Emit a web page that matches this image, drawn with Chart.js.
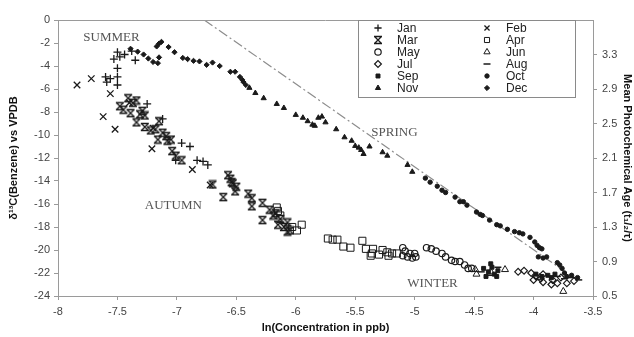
<!DOCTYPE html>
<html>
<head>
<meta charset="utf-8">
<script src="https://cdn.jsdelivr.net/npm/chart.js@4.4.1/dist/chart.umd.min.js"></script>
<style>
  html, body { margin: 0; padding: 0; background: #fff; }
  #wrap { width: 634px; height: 337px; }
</style>
</head>
<body>
<div id="wrap"><canvas id="chart" width="634" height="337"></canvas></div>
<script>
// ln(concentration) vs delta13C, one list of [x, y] pairs per month
const jan = [[-7.50, -2.8], [-7.48, -3.2], [-7.38, -2.7], [-7.35, -3.5], [-7.44, -3.0], [-7.50, -4.2],
  [-7.50, -4.95], [-7.50, -5.65], [-7.60, -4.95], [-7.59, -5.4], [-7.56, -5.1], [-7.53, -3.4],
  [-7.25, -7.3], [-7.12, -8.6], [-6.96, -10.7], [-6.89, -11.0], [-7.01, -12.2], [-6.83, -12.2],
  [-6.78, -12.3], [-6.74, -12.6]];
const feb = [[-7.84, -5.65], [-7.72, -5.1], [-7.56, -6.4], [-7.62, -8.4], [-7.52, -9.5], [-7.21, -11.2],
  [-6.87, -13.0], [-6.72, -14.35], [-7.40, -7.2], [-7.20, -9.4]];
const mar = [[-7.41, -6.8], [-7.37, -7.2], [-7.34, -7.0], [-7.48, -7.5], [-7.45, -7.8], [-7.39, -8.1],
  [-7.31, -8.2], [-7.29, -7.9], [-7.27, -8.3], [-7.34, -8.9], [-7.27, -9.3], [-7.22, -9.6],
  [-7.18, -9.5], [-7.12, -9.8], [-7.09, -10.1], [-7.08, -10.5], [-7.05, -10.4], [-7.15, -8.8],
  [-7.16, -10.4], [-7.04, -11.4], [-7.01, -11.8], [-6.96, -12.2], [-6.57, -13.5], [-6.55, -13.8],
  [-6.54, -14.1], [-6.50, -14.5], [-6.53, -14.2], [-6.70, -14.3], [-6.61, -15.4], [-6.51, -14.9],
  [-6.40, -15.1], [-6.37, -15.5], [-6.37, -16.2], [-6.28, -15.9], [-6.28, -17.4], [-6.22, -16.5],
  [-6.19, -17.0], [-6.17, -16.8], [-6.15, -17.8], [-6.13, -17.3], [-6.07, -17.6], [-6.05, -18.3],
  [-6.07, -18.4], [-6.10, -18.0]];
const apr = [[-6.16, -16.3], [-6.15, -16.6], [-6.13, -17.0], [-5.95, -17.8], [-5.99, -18.3], [-6.03, -18.0],
  [-5.73, -19.0], [-5.69, -19.1], [-5.65, -19.1], [-5.60, -19.7], [-5.54, -19.8], [-5.44, -19.2],
  [-5.41, -19.9], [-5.36, -20.3], [-5.35, -19.9], [-5.27, -20.0], [-5.23, -20.2], [-5.19, -20.3],
  [-5.15, -20.3], [-5.30, -20.4], [-5.37, -20.5], [-5.22, -20.5]];
const may = [[-5.10, -19.8], [-5.08, -20.1], [-5.06, -20.6], [-5.02, -20.7], [-5.04, -20.3], [-5.10, -20.5],
  [-4.99, -20.6], [-5.00, -20.3], [-4.90, -19.8], [-4.86, -19.9], [-4.82, -20.1], [-4.77, -20.3],
  [-4.74, -20.6], [-4.69, -20.9], [-4.66, -21.0], [-4.62, -21.0], [-4.58, -21.3], [-4.55, -21.6],
  [-4.52, -21.6]];
const jun = [[-4.49, -21.7], [-4.48, -22.1], [-4.24, -21.7], [-4.36, -21.9], [-3.95, -22.4], [-3.75, -23.6]];
const jul = [[-4.13, -21.9], [-4.08, -21.8], [-4.02, -22.0], [-4.00, -22.6], [-3.98, -22.3], [-3.94, -22.5],
  [-3.92, -22.8], [-3.85, -23.0], [-3.84, -22.6], [-3.80, -22.9], [-3.77, -22.4], [-3.72, -22.9],
  [-3.66, -22.7], [-3.92, -22.1]];
const aug = [[-4.44, -21.9], [-4.37, -22.2], [-4.30, -21.5], [-3.80, -22.3], [-3.74, -22.5], [-3.68, -22.4],
  [-3.62, -22.6]];
const sep = [[-4.42, -21.6], [-4.38, -21.9], [-4.35, -21.5], [-4.33, -22.1], [-4.30, -21.8], [-4.40, -22.3],
  [-4.36, -21.2], [-4.31, -22.3], [-3.98, -22.1], [-3.93, -22.3], [-3.88, -22.2], [-3.85, -22.4],
  [-3.82, -22.1]];
const oct = [[-4.91, -13.75], [-4.87, -14.1], [-4.81, -14.45], [-4.77, -14.8], [-4.74, -15.0], [-4.66, -15.4],
  [-4.62, -15.8], [-4.59, -15.8], [-4.56, -16.1], [-4.48, -16.7], [-4.45, -16.9], [-4.43, -17.0],
  [-4.37, -17.4], [-4.31, -17.8], [-4.28, -17.9], [-4.22, -18.2], [-4.16, -18.4], [-4.12, -18.5],
  [-4.09, -18.6], [-4.03, -18.9], [-3.99, -19.3], [-3.97, -19.6], [-3.95, -19.8], [-3.93, -19.9],
  [-3.96, -20.6], [-3.92, -20.7], [-3.89, -20.6], [-3.80, -21.1], [-3.78, -21.3], [-3.76, -21.6],
  [-3.74, -22.0], [-3.72, -22.3], [-3.63, -22.4], [-3.68, -22.2]];
const nov = [[-6.39, -5.9], [-6.34, -6.35], [-6.27, -6.8], [-6.16, -7.3], [-6.10, -7.65], [-6.00, -8.25],
  [-5.94, -8.5], [-5.90, -8.8], [-5.86, -9.1], [-5.84, -9.2], [-5.81, -8.5], [-5.78, -8.4],
  [-5.75, -8.9], [-5.66, -9.5], [-5.59, -10.2], [-5.53, -10.5], [-5.50, -10.95], [-5.47, -11.1],
  [-5.45, -11.3], [-5.43, -11.65], [-5.38, -11.0], [-5.27, -11.5], [-5.23, -11.8], [-5.06, -12.6],
  [-5.02, -13.2]];
const dec = [[-7.39, -2.5], [-7.33, -2.75], [-7.28, -3.0], [-7.24, -3.35], [-7.20, -3.65], [-7.16, -3.75],
  [-7.15, -3.25], [-7.17, -2.3], [-7.15, -2.05], [-7.13, -1.9], [-7.07, -2.35], [-7.02, -2.8],
  [-6.95, -3.3], [-6.91, -3.4], [-6.86, -3.55], [-6.81, -3.6], [-6.75, -3.9], [-6.70, -3.7],
  [-6.64, -4.0], [-6.55, -4.5], [-6.51, -4.5], [-6.47, -4.95], [-6.45, -5.2], [-6.42, -5.65],
  [-6.44, -5.4]];

const trendX = [-6.77, -3.72];
const trendY = [0, -22.0];

const xTicks = [-8, -7.5, -7, -6.5, -6, -5.5, -5, -4.5, -4, -3.5];
const yTicks = [-24, -22, -20, -18, -16, -14, -12, -10, -8, -6, -4, -2, 0];
const ageTicks = [0.5, 0.9, 1.3, 1.7, 2.1, 2.5, 2.9, 3.3];

const seasonNames = ['SUMMER', 'AUTUMN', 'SPRING', 'WINTER'];
const seasonX = [-7.55, -7.03, -5.17, -4.85];
const seasonY = [-1.5, -16.1, -9.8, -22.9];

const INK = '#1a1a1a';

// "x with bars" marker for March
function barredCross() {
  const c = document.createElement('canvas');
  c.width = 10; c.height = 10;
  const g = c.getContext('2d');
  g.strokeStyle = INK;
  g.lineWidth = 1.3;
  g.beginPath();
  g.moveTo(1.5, 1.5); g.lineTo(8.5, 8.5);
  g.moveTo(8.5, 1.5); g.lineTo(1.5, 8.5);
  g.moveTo(1, 1.5); g.lineTo(9, 1.5);
  g.moveTo(1, 8.5); g.lineTo(9, 8.5);
  g.stroke();
  return c;
}

const pts = arr => arr.map(p => ({ x: p[0], y: p[1] }));

const months = [
  { label: 'Jan', data: jan, style: 'cross', r: 4, fill: false, bw: 1.3 },
  { label: 'Feb', data: feb, style: 'crossRot', r: 4.6, fill: false, bw: 1.3 },
  { label: 'Mar', data: mar, style: barredCross(), r: 4, fill: false, bw: 1.3 },
  { label: 'Apr', data: apr, style: 'rect', r: 5, fill: false, bw: 1 },
  { label: 'May', data: may, style: 'circle', r: 3.2, fill: false, bw: 1.2 },
  { label: 'Jun', data: jun, style: 'triangle', r: 4, fill: false, bw: 1 },
  { label: 'Jul', data: jul, style: 'rectRot', r: 3.4, fill: false, bw: 1.2 },
  { label: 'Aug', data: aug, style: 'line', r: 3.5, fill: false, bw: 1.5 },
  { label: 'Sep', data: sep, style: 'rect', r: 2.8, fill: true, bw: 1 },
  { label: 'Oct', data: oct, style: 'circle', r: 2.2, fill: true, bw: 1 },
  { label: 'Nov', data: nov, style: 'triangle', r: 3, fill: true, bw: 1 },
  { label: 'Dec', data: dec, style: 'rectRot', r: 2.6, fill: true, bw: 1 }
];

const datasets = months.map(m => ({
  label: m.label,
  data: pts(m.data),
  pointStyle: m.style,
  pointRadius: m.r,
  pointBorderWidth: m.bw,
  pointBorderColor: INK,
  pointBackgroundColor: m.fill ? INK : 'rgba(255,255,255,0)',
  showLine: false,
  xAxisID: 'x',
  yAxisID: 'y'
}));

datasets.push({
  label: 'trend',
  data: trendX.map((x, i) => ({ x: x, y: trendY[i] })),
  showLine: true,
  borderColor: '#8c8c8c',
  borderWidth: 1.2,
  borderDash: [10, 3, 2, 3],
  pointRadius: 0,
  xAxisID: 'x',
  yAxisID: 'y'
});

const tickFont = { family: 'Liberation Sans, Arial, sans-serif', size: 11 };
const titleFont = { family: 'Liberation Sans, Arial, sans-serif', size: 11, weight: 'bold' };
const axisGray = '#9a9a9a';

// top border, season names and the two-column key
const overlay = {
  id: 'overlay',
  afterDatasetsDraw(chart) {
    const ctx = chart.ctx;
    const a = chart.chartArea;
    const sx = chart.scales.x, sy = chart.scales.y;
    ctx.save();
    ctx.strokeStyle = axisGray;
    ctx.lineWidth = 1;
    ctx.beginPath();
    ctx.moveTo(a.left, a.top + 0.5);
    ctx.lineTo(a.right, a.top + 0.5);
    ctx.stroke();

    ctx.fillStyle = '#555';
    ctx.font = '13px "Liberation Serif", "Times New Roman", serif';
    ctx.textAlign = 'center';
    ctx.textBaseline = 'middle';
    seasonNames.forEach((s, i) => {
      ctx.fillText(s, sx.getPixelForValue(seasonX[i]), sy.getPixelForValue(seasonY[i]));
    });

    // key box
    const bx = 358, by = 20, bw = 217, bh = 77;
    ctx.fillStyle = '#fff';
    ctx.fillRect(bx, by, bw, bh);
    ctx.strokeStyle = '#8a8a8a';
    ctx.strokeRect(bx + 0.5, by + 0.5, bw, bh);
    ctx.font = '12px "Liberation Sans", Arial, sans-serif';
    ctx.textAlign = 'left';
    months.forEach((m, i) => {
      const col = i % 2, row = Math.floor(i / 2);
      const mx = col === 0 ? 378 : 487;
      const my = 28 + row * 12;
      ctx.fillStyle = m.fill ? INK : '#fff';
      ctx.strokeStyle = INK;
      ctx.lineWidth = m.bw;
      Chart.helpers.drawPoint(ctx, {
        pointStyle: m.style, radius: Math.min(m.r, 3.6), rotation: 0, borderWidth: m.bw
      }, mx, my);
      ctx.fillStyle = '#222';
      ctx.fillText(m.label, mx + 19, my + 1);
    });
    ctx.restore();
  }
};

new Chart(document.getElementById('chart'), {
  type: 'scatter',
  data: { datasets: datasets },
  plugins: [overlay],
  options: {
    responsive: false,
    animation: false,
    layout: { padding: { top: 20, left: 0, right: 0, bottom: 0 } },
    plugins: { legend: { display: false }, tooltip: { enabled: false } },
    scales: {
      x: {
        type: 'linear', position: 'bottom', min: -8, max: -3.5,
        afterBuildTicks: s => { s.ticks = xTicks.map(v => ({ value: v })); },
        afterFit: s => { s.height = 41; },
        ticks: { font: tickFont, color: '#444', padding: 5, maxRotation: 0, callback: v => String(v) },
        grid: { drawOnChartArea: false, drawTicks: true, tickLength: 4, color: axisGray },
        border: { color: axisGray },
        title: { display: true, text: 'ln(Concentration in ppb)', font: titleFont, color: '#111', padding: { top: 2, bottom: 2 } }
      },
      y: {
        type: 'linear', position: 'left', min: -24, max: 0,
        afterBuildTicks: s => { s.ticks = yTicks.map(v => ({ value: v })); },
        afterFit: s => { s.width = 58; },
        ticks: { font: tickFont, color: '#444', padding: 4, callback: v => String(v) },
        grid: { drawOnChartArea: false, drawTicks: true, tickLength: 4, color: axisGray },
        border: { color: axisGray },
        title: { display: true, text: 'δ¹³C(Benzene) vs VPDB', font: titleFont, color: '#111', padding: { top: 7, bottom: 0 } }
      },
      y2: {
        type: 'linear', position: 'right', min: 0.5, max: 3.7,
        afterBuildTicks: s => { s.ticks = ageTicks.map(v => ({ value: v })); },
        afterFit: s => { s.width = 41; },
        ticks: { font: tickFont, color: '#444', padding: 5, callback: v => v.toFixed(1) },
        grid: { drawOnChartArea: false, drawTicks: true, tickLength: 4, color: axisGray },
        border: { color: axisGray },
        title: { display: true, text: 'Mean Photochemical Age (t₁/₂/τ)', font: titleFont, color: '#111', padding: { top: 0, bottom: 0 } }
      }
    }
  }
});
</script>
</body>
</html>
